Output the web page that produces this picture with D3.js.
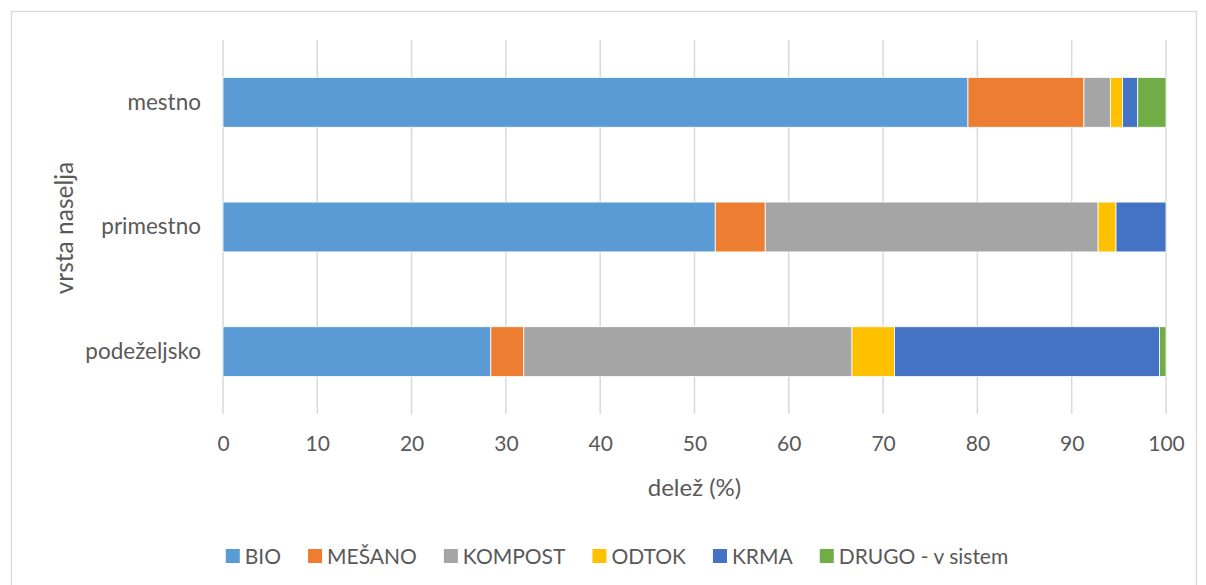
<!DOCTYPE html>
<html>
<head>
<meta charset="utf-8">
<script src="https://cdn.jsdelivr.net/npm/d3@7"></script>
<style>
  body { margin: 0; background: #fff; }
  text { font-family: Lato, "Open Sans", sans-serif; fill: #595959; }
</style>
</head>
<body>
<svg width="1206" height="585"></svg>
<script>
// categories, top to bottom
var settlements = ["mestno", "primestno", "podeželjsko"];
// series, stacked left to right
var series = ["BIO", "MEŠANO", "KOMPOST", "ODTOK", "KRMA", "DRUGO - v sistem"];
var colors = ["#5B9BD5", "#ED7D31", "#A5A5A5", "#FFC000", "#4472C4", "#70AD47"];
// shares in % per series, in settlement order
var bio     = [79.0, 52.2, 28.4];
var mesano  = [12.3, 5.3, 3.5];
var kompost = [2.8, 35.3, 34.8];
var odtok   = [1.3, 1.9, 4.5];
var krma    = [1.6, 5.3, 28.1];
var drugo   = [3.0, 0.0, 0.7];
var xTicks  = [0, 10, 20, 30, 40, 50, 60, 70, 80, 90, 100];

var svg = d3.select("svg");

// outer chart border
svg.append("rect")
    .attr("x", 11.5).attr("y", 11.5)
    .attr("width", 1185).attr("height", 600)
    .attr("fill", "none").attr("stroke", "#D9D9D9").attr("stroke-width", 1.3);

var plotLeft = 223, plotRight = 1166, plotTop = 40, plotBottom = 414;

var x = d3.scaleLinear().domain([0, 100]).range([plotLeft, plotRight]);
var y = d3.scaleBand().domain(settlements).range([plotTop, plotBottom]).paddingInner(0.6).paddingOuter(0.3);

// build table for stacking
var all = [bio, mesano, kompost, odtok, krma, drugo];
var table = settlements.map(function(s, i) {
    var row = { naselje: s };
    series.forEach(function(k, j) { row[k] = all[j][i]; });
    return row;
});
var stacked = d3.stack().keys(series)(table);

// gridlines
svg.append("g")
    .selectAll("line")
    .data(xTicks)
    .enter().append("line")
        .attr("x1", function(d) { return x(d); })
        .attr("x2", function(d) { return x(d); })
        .attr("y1", plotTop).attr("y2", plotBottom)
        .attr("stroke", "#D9D9D9").attr("stroke-width", 1.5);

// bars
svg.append("g")
    .selectAll("g")
    .data(stacked)
    .enter().append("g")
        .attr("fill", function(d, i) { return colors[i]; })
    .selectAll("rect")
    .data(function(d) { return d.filter(function(p) { return p[1] - p[0] > 0; }); })
    .enter().append("rect")
        .attr("x", function(d) { return x(d[0]); })
        .attr("width", function(d) { return x(d[1]) - x(d[0]); })
        .attr("y", function(d) { return y(d.data.naselje); })
        .attr("height", y.bandwidth())
        .attr("stroke", "#fff").attr("stroke-width", 0.8);

// x axis labels
var xAxis = d3.axisBottom(x).tickValues(xTicks).tickSize(0).tickPadding(0);
svg.append("g")
    .attr("transform", "translate(0," + 436 + ")")
    .call(xAxis)
    .call(function(g) { g.select(".domain").remove(); })
    .selectAll("text")
        .attr("font-size", 21).attr("dy", "0.72em")
        .style("font-family", "Lato, sans-serif").attr("fill", "#595959");

// y axis labels
var yAxis = d3.axisLeft(y).tickSize(0).tickPadding(22);
svg.append("g")
    .attr("transform", "translate(" + plotLeft + ",0)")
    .call(yAxis)
    .call(function(g) { g.select(".domain").remove(); })
    .selectAll("text")
        .attr("font-size", 22.5)
        .style("font-family", "Lato, sans-serif").attr("fill", "#595959");

// axis titles
svg.append("text")
    .attr("x", (plotLeft + plotRight) / 2).attr("y", 496)
    .attr("text-anchor", "middle").attr("font-size", 24)
    .text("delež (%)");
svg.append("text")
    .attr("transform", "translate(73,228) rotate(-90)")
    .attr("text-anchor", "middle").attr("font-size", 24.5)
    .text("vrsta naselja");

// legend
var legend = svg.append("g");
var items = legend.selectAll("g").data(series).enter().append("g");
items.append("rect")
    .attr("width", 14).attr("height", 14)
    .attr("y", 549)
    .attr("fill", function(d, i) { return colors[i]; });
items.append("text")
    .attr("x", 19).attr("y", 564)
    .attr("font-size", 21)
    .text(function(d) { return d; });
var pos = 0;
items.each(function() {
    var w = d3.select(this).select("text").node().getComputedTextLength();
    d3.select(this).attr("data-x", pos);
    pos += 19 + w + 27;
});
var total = pos - 27;
var startX = 617 - total / 2;
items.attr("transform", function() {
    return "translate(" + (startX + (+d3.select(this).attr("data-x"))) + ",0)";
});
</script>
</body>
</html>
